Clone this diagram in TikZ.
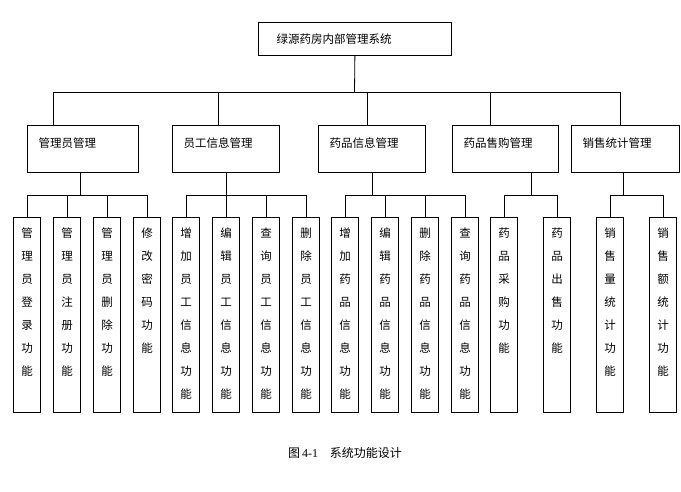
\documentclass[tikz,border=0pt]{standalone}
\usepackage{fontspec}
\setmainfont{Liberation Serif}
\newfontfamily\cjk{Noto Sans CJK SC}
\begin{document}
\begin{tikzpicture}[x=1pt,y=-1pt,
  box/.style={draw,line width=0.8pt,inner sep=0pt},
  lbl/.style={font=\cjk\fontsize{11.5}{23}\selectfont},
  vt/.style={font=\cjk\fontsize{11.5}{23}\selectfont,align=center,anchor=north,inner sep=0pt},
  ln/.style={line width=0.8pt}]
\useasboundingbox (0,0) rectangle (681,492);
\node[box,minimum width=193,minimum height=33,anchor=north west] (top) at (258,22) {};
\node[lbl,anchor=west] at ([xshift=15pt]top.west) {绿源药房内部管理系统};
\newcommand\midbox[4]{\node[box,minimum width=#3,minimum height=47,anchor=north west] (#1) at (#2,125) {};
  \node[lbl,anchor=west] at ([xshift=8pt,yshift=6pt]#1.west) {#4};}
\midbox{m1}{27}{111}{管理员管理}
\midbox{m2}{172}{107}{员工信息管理}
\midbox{m3}{318}{107}{药品信息管理}
\midbox{m4}{452}{106}{药品售购管理}
\midbox{m5}{571}{108}{销售统计管理}
\draw[ln] (top.south) -- (354.5,92);
\draw[ln] (53,92) -- (620,92);
\foreach \x in {53,218,367,490,620} \draw[ln] (\x,92) -- (\x,125);
\newcommand\child[3]{\node[box,minimum width=27,minimum height=195,anchor=north] (#1) at (#2,217) {};
  \node[vt] at ([yshift=-11pt]#1.north) {#3};}
\child{c1}{27}{管\\理\\员\\登\\录\\功\\能}
\child{c2}{67}{管\\理\\员\\注\\册\\功\\能}
\child{c3}{107}{管\\理\\员\\删\\除\\功\\能}
\child{c4}{147}{修\\改\\密\\码\\功\\能}
\child{c5}{186}{增\\加\\员\\工\\信\\息\\功\\能}
\child{c6}{226}{编\\辑\\员\\工\\信\\息\\功\\能}
\child{c7}{266}{查\\询\\员\\工\\信\\息\\功\\能}
\child{c8}{306}{删\\除\\员\\工\\信\\息\\功\\能}
\child{c9}{345}{增\\加\\药\\品\\信\\息\\功\\能}
\child{c10}{385}{编\\辑\\药\\品\\信\\息\\功\\能}
\child{c11}{425}{删\\除\\药\\品\\信\\息\\功\\能}
\child{c12}{465}{查\\询\\药\\品\\信\\息\\功\\能}
\child{c13}{504}{药\\品\\采\\购\\功\\能}
\child{c14}{557}{药\\品\\出\\售\\功\\能}
\child{c15}{610}{销\\售\\量\\统\\计\\功\\能}
\child{c16}{663}{销\\售\\额\\统\\计\\功\\能}
\foreach \px/\a/\b in {80/27/147,226/186/306,372/345/465,531/504/557,623/610/663}{
  \draw[ln] (\px,172) -- (\px,195);
  \draw[ln] (\a,195) -- (\b,195);}
\foreach \x in {27,67,107,147,186,226,266,306,345,385,425,465,504,557,610,663} \draw[ln] (\x,195) -- (\x,217);
\node[font=\cjk\fontsize{12}{14}\selectfont] (cap) at (345,453) {图\,{\rmfamily 4-1}\quad 系统功能设计};
\end{tikzpicture}
\end{document}
